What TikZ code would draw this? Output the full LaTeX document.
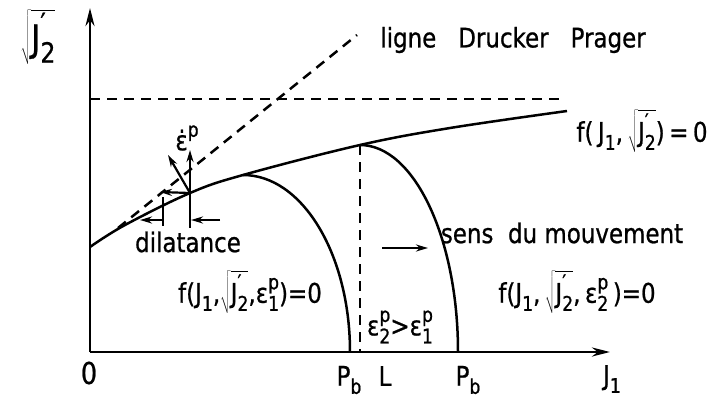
\RequirePackage{fix-cm}
\documentclass[tikz,border=0pt]{standalone}
\usepackage{graphicx}
\usepackage{fontspec}
\setmainfont{DejaVu Sans}[FakeStretch=0.85, FakeBold=0.8]
\usetikzlibrary{arrows.meta, positioning}

\newcommand{\dnx}[1]{\raisebox{-0.3em}{\scalebox{0.75}{#1}}}
\newcommand{\upx}[1]{\raisebox{0.5em}{\scalebox{0.75}{#1}}}
\newcommand{\sqJ}{$\sqrt{\mbox{J\rlap{\upx{′}}\dnx{2}}}$}
\newcommand{\epsp}[1]{ε\rlap{\upx{p}}\dnx{#1}}

\tikzset{
  axisline/.style={line width=2.8pt, -{Stealth[length=18pt,width=9pt]}},
  yieldline/.style={line width=2.5pt},
  dashline/.style={line width=2.5pt, dash pattern=on 10pt off 7pt},
  vecline/.style={line width=2.2pt, -{Stealth[length=12pt,width=7pt]}},
  tickline/.style={line width=2pt},
  lbl/.style={inner sep=0pt, font=\fontsize{27}{30}\selectfont},
}

\begin{document}
\begin{tikzpicture}[x=1pt, y=-1pt]
    \useasboundingbox (0,0) rectangle (719,404);

    % === axes ===
    \coordinate (O) at (90,352);
    \coordinate (Ytop) at (90,8);
    \coordinate (Xend) at (610,352);
    \draw[axisline] (O) -- (Ytop);
    \draw[axisline] (O) -- (Xend);

    % === Drucker Prager line and horizontal limit ===
    \coordinate (DPa) at (118,228);
    \coordinate (DPb) at (357,35);
    \draw[dashline] (DPa) -- (DPb);
    \coordinate (Hl) at (90,99);
    \coordinate (Hr) at (560,99);
    \draw[dashline] (Hl) -- (Hr);

    % === yield surface f(J1, sqrt J2') = 0 ===
    \draw[yieldline] plot[smooth, tension=0.6] coordinates
        {(90,247) (125,225) (190,193) (243,175) (360,145) (450,128) (567,111)};

    % === caps (quarter ellipses) ===
    \coordinate (CapAt) at (243,175);
    \coordinate (CapAb) at (350,352);
    \draw[yieldline] (CapAt) .. controls (302,175) and (350,254) .. (CapAb);
    \coordinate (CapBt) at (360,145);
    \coordinate (CapBb) at (458,352);
    \draw[yieldline] (CapBt) .. controls (414,145) and (458,238) .. (CapBb);
    \coordinate (Lb) at (360,352);
    \draw[dashline] (CapBt) -- (Lb);

    % === plastic strain vectors at P ===
    \coordinate (P) at (190,193);
    \coordinate (Pup) at (190,150);
    \coordinate (Pnorm) at (168,155);
    \coordinate (Pleft) at (160,192);
    \coordinate (Pdown) at (190,228);
    \draw[vecline] (P) -- (Pup);
    \draw[vecline] (P) -- (Pnorm);
    \draw[vecline] (P) -- (Pleft);
    \draw[tickline] (P) -- (Pdown);
    \coordinate (Ta) at (163,197);
    \coordinate (Tb) at (163,226);
    \draw[tickline] (Ta) -- (Tb);
    \coordinate (DAs) at (220,220);
    \coordinate (DAe) at (191,220);
    \draw[vecline] (DAs) -- (DAe);
    \coordinate (DBs) at (163,220);
    \coordinate (DBe) at (140,220);
    \draw[vecline] (DBs) -- (DBe);

    % === direction of motion ===
    \coordinate (Ma) at (382,248);
    \coordinate (Mb) at (428,248);
    \draw[vecline] (Ma) -- (Mb);

    % === labels ===
    \node[lbl, font=\fontsize{37}{40}\selectfont] (ylab) at (38,37) {\sqJ};
    \node[lbl] (xlab) at (612,379) {J\dnx{1}};
    \node[lbl, font=\fontsize{30}{32}\selectfont] (zero) at (89,373) {0};
    \node[lbl] (pba) at (349,380) {P\dnx{b}};
    \node[lbl] (lpt) at (385,376) {L};
    \node[lbl] (pbb) at (468,380) {P\dnx{b}};
    \node[lbl] (dp) at (513,40) {ligne\hspace{22pt}Drucker\hspace{22pt}Prager};
    \node[lbl] (fa) at (642,131) {f(\,J\dnx{1},\,\sqJ)\,=\,0};
    \node[lbl] (epsdot) at (187,138) {\.{ε}\upx{p}};
    \node[lbl] (dil) at (188,242) {dilatance};
    \node[lbl] (sens) at (562,233) {sens\ \ du mouvement};
    \node[lbl] (fb) at (250,292) {f(J\dnx{1},\sqJ,\epsp{1})=0};
    \node[lbl] (fc) at (577,292) {f(J\dnx{1},\,\sqJ,\,\epsp{2}\,)=0};
    \node[lbl] (ineq) at (400,327) {\epsp{2}>\epsp{1}};

\end{tikzpicture}
\end{document}
